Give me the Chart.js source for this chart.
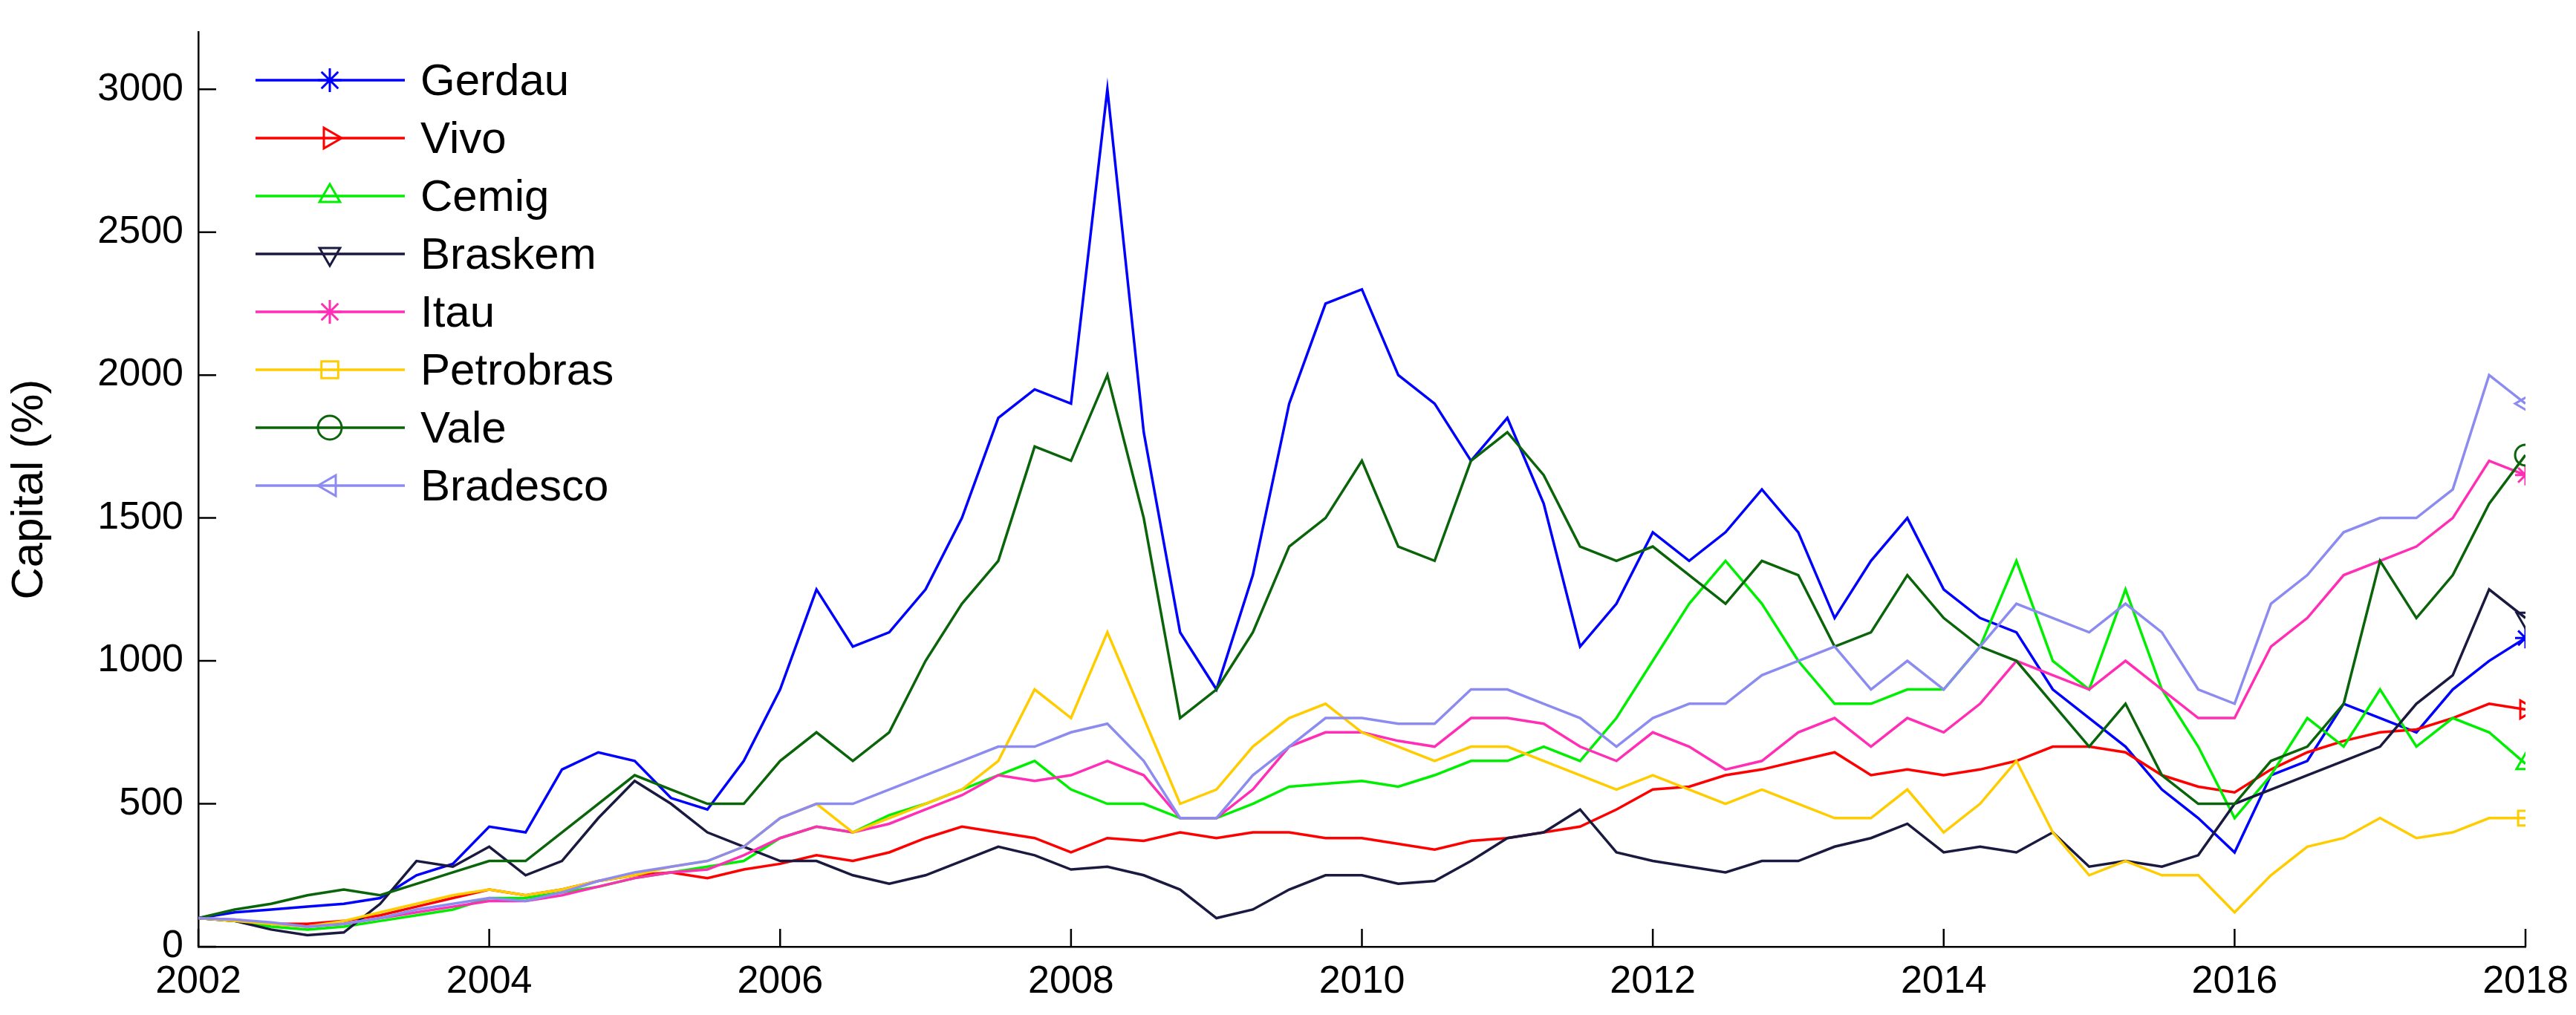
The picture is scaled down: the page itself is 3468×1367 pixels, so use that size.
<!DOCTYPE html>
<html>
<head>
<meta charset="utf-8">
<script src="https://cdn.jsdelivr.net/npm/chart.js@4/dist/chart.umd.min.js"></script>
<style>body{margin:0;background:#fff}canvas{display:block}</style>
</head>
<body>
<canvas id="c" width="3468" height="1367"></canvas>
<script>
// quarterly samples, 2002 .. 2018
const years = [];
for (let i = 0; i <= 64; i++) years.push(2002 + i / 4);

const names = ['Gerdau', 'Vivo', 'Cemig', 'Braskem', 'Itau', 'Petrobras', 'Vale', 'Bradesco'];

const gerdau = [100,120,130,140, 150,170,250,290, 420,400,620,680, 650,520,480,650,
  900,1250,1050,1100, 1250,1500,1850,1950, 1900,3000,1800,1100, 900,1300,1900,2250,
  2300,2000,1900,1700, 1850,1550,1050,1200, 1450,1350,1450,1600, 1450,1150,1350,1500,
  1250,1150,1100,900, 800,700,550,450, 330,600,650,850, 800,750,900,1000, 1080];
const vivo = [100,90,80,80, 90,110,140,170, 200,180,200,230, 250,260,240,270,
  290,320,300,330, 380,420,400,380, 330,380,370,400, 380,400,400,380,
  380,360,340,370, 380,400,420,480, 550,560,600,620, 650,680,600,620,
  600,620,650,700, 700,680,600,560, 540,620,680,720, 750,760,800,850, 830];
const cemig = [100,90,70,60, 70,90,110,130, 170,170,190,210, 240,260,280,300,
  380,420,400,460, 500,550,600,650, 550,500,500,450, 450,500,560,570,
  580,560,600,650, 650,700,650,800, 1000,1200,1350,1200, 1000,850,850,900,
  900,1050,1350,1000, 900,1250,900,700, 450,600,800,700, 900,700,800,750, 640];
const braskem = [100,90,60,40, 50,150,300,280, 350,250,300,450, 580,500,400,350,
  300,300,250,220, 250,300,350,320, 270,280,250,200, 100,130,200,250,
  250,220,230,300, 380,400,480,330, 300,280,260,300, 300,350,380,430,
  330,350,330,400, 280,300,280,320, 500,550,600,650, 700,850,950,1250, 1150];
const itau = [100,95,80,70, 80,100,120,140, 160,160,180,210, 240,260,270,320,
  380,420,400,430, 480,530,600,580, 600,650,600,450, 450,550,700,750,
  750,720,700,800, 800,780,700,650, 750,700,620,650, 750,800,700,800,
  750,850,1000,950, 900,1000,900,800, 800,1050,1150,1300, 1350,1400,1500,1700, 1650];
const petrobras = [100,90,80,70, 90,120,150,180, 200,180,200,230, 250,280,300,350,
  450,500,400,450, 500,550,650,900, 800,1100,800,500, 550,700,800,850,
  750,700,650,700, 700,650,600,550, 600,550,500,550, 500,450,450,550,
  400,500,650,400, 250,300,250,250, 120,250,350,380, 450,380,400,450, 450];
const vale = [100,130,150,180, 200,180,220,260, 300,300,400,500, 600,550,500,500,
  650,750,650,750, 1000,1200,1350,1750, 1700,2000,1500,800, 900,1100,1400,1500,
  1700,1400,1350,1700, 1800,1650,1400,1350, 1400,1300,1200,1350, 1300,1050,1100,1300,
  1150,1050,1000,850, 700,850,600,500, 500,650,700,850, 1350,1150,1300,1550, 1720];
const bradesco = [100,95,85,70, 80,100,130,150, 170,160,190,230, 260,280,300,350,
  450,500,500,550, 600,650,700,700, 750,780,650,450, 450,600,700,800,
  800,780,780,900, 900,850,800,700, 800,850,850,950, 1000,1050,900,1000,
  900,1050,1200,1150, 1100,1200,1100,900, 850,1200,1300,1450, 1500,1500,1600,2000, 1900];

const seriesValues = [gerdau, vivo, cemig, braskem, itau, petrobras, vale, bradesco];
const colors = ['#0000ff', '#ff0000', '#00ee00', '#1a1a40', '#ff2eb4', '#ffcc00', '#0a640a', '#8c8cf0'];
const markers = [
  { style: 'star', rot: 0 }, { style: 'triangle', rot: 90 }, { style: 'triangle', rot: 0 },
  { style: 'triangle', rot: 180 }, { style: 'star', rot: 0 }, { style: 'rect', rot: 0 },
  { style: 'circle', rot: 0 }, { style: 'triangle', rot: -90 }
];
const yTicks = [0, 500, 1000, 1500, 2000, 2500, 3000];
const xTicks = [2002, 2004, 2006, 2008, 2010, 2012, 2014, 2016, 2018];

const datasets = names.map((n, k) => ({
  label: n,
  data: seriesValues[k].map((v, i) => ({ x: years[i], y: v })),
  borderColor: colors[k],
  borderWidth: 3.5,
  pointStyle: markers[k].style,
  pointRotation: markers[k].rot,
  pointBorderColor: colors[k],
  pointBackgroundColor: 'rgba(0,0,0,0)',
  pointBorderWidth: 3,
  pointRadius: c => c.dataIndex === seriesValues[k].length - 1 ? 14 : 0,
  tension: 0
})).reverse();

// inward tick marks and line+marker legend
const decor = {
  id: 'decor',
  afterDraw(chart) {
    const ctx = chart.ctx, a = chart.chartArea, xs = chart.scales.x, ys = chart.scales.y;
    ctx.save();
    ctx.strokeStyle = '#000';
    ctx.lineWidth = 2.5;
    ctx.beginPath();
    yTicks.forEach(t => { const p = ys.getPixelForValue(t); ctx.moveTo(a.left, p); ctx.lineTo(a.left + 24, p); });
    xTicks.forEach(t => { const p = xs.getPixelForValue(t); ctx.moveTo(p, a.bottom); ctx.lineTo(p, a.bottom - 24); });
    ctx.stroke();
    ctx.font = '60px "Liberation Sans", Arial, sans-serif';
    ctx.textBaseline = 'middle';
    names.forEach((n, k) => {
      const y = 108 + k * 78;
      ctx.strokeStyle = colors[k];
      ctx.lineWidth = 3.5;
      ctx.beginPath(); ctx.moveTo(344, y); ctx.lineTo(545, y); ctx.stroke();
      ctx.fillStyle = 'rgba(0,0,0,0)';
      ctx.lineWidth = 3;
      Chart.helpers.drawPoint(ctx, {
        pointStyle: markers[k].style, rotation: markers[k].rot, radius: 16, borderWidth: 3
      }, 444, y);
      ctx.fillStyle = '#000';
      ctx.fillText(n, 566, y + 3);
    });
    ctx.restore();
  }
};

const tickFont = { size: 52, family: 'Liberation Sans' };

new Chart(document.getElementById('c').getContext('2d'), {
  type: 'line',
  data: { datasets },
  options: {
    responsive: false,
    animation: false,
    devicePixelRatio: 1,
    layout: { padding: { top: 27, right: 68 } },
    plugins: { legend: { display: false }, tooltip: { enabled: false } },
    scales: {
      x: {
        type: 'linear', min: 2002, max: 2018,
        afterBuildTicks: s => { s.ticks = xTicks.map(v => ({ value: v })); },
        afterFit: s => { s.height = 92; },
        grid: { display: false },
        border: { color: '#000', width: 2.5 },
        ticks: { color: '#000', font: tickFont, padding: 8, maxRotation: 0, callback: v => String(v) }
      },
      y: {
        min: 0, max: 3200,
        afterBuildTicks: s => { s.ticks = yTicks.map(v => ({ value: v })); },
        afterFit: s => { s.width = 267; },
        grid: { display: false },
        border: { color: '#000', width: 2.5 },
        title: { display: true, text: 'Capital (%)', color: '#000', font: { size: 60, family: 'Liberation Sans' }, padding: 4 },
        ticks: { color: '#000', font: tickFont, padding: 12, callback: v => String(v) }
      }
    }
  },
  plugins: [decor]
});
</script>
</body>
</html>
